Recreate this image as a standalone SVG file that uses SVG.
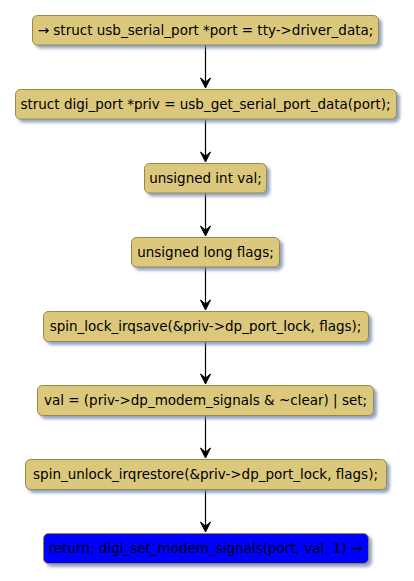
<svg xmlns="http://www.w3.org/2000/svg" width="414" height="581" viewBox="0 0 414 581">
<style>
.n rect{fill:#DBC87B;stroke:#9A8843;stroke-width:1;filter:url(#sh)}
.n.end rect{fill:#0000FF;stroke:#9A8843}
.n text{font-family:"DejaVu Sans",sans-serif;font-size:13.5px;fill:#000;text-anchor:middle}
.c line{stroke:#000;stroke-width:1.2}
.c path{fill:#000;stroke:#000;stroke-width:1}
</style>
<defs>
<filter id="sh" x="-10%" y="-30%" width="130%" height="180%">
<feGaussianBlur in="SourceAlpha" stdDeviation="1.5"/>
<feOffset dx="3" dy="3" result="b"/>
<feFlood flood-color="#6F86B0" flood-opacity="0.75"/>
<feComposite in2="b" operator="in" result="s"/>
<feMerge><feMergeNode in="s"/><feMergeNode in="SourceGraphic"/></feMerge>
</filter>
</defs>
<rect width="414" height="581" fill="#fff"/>
<g class="c">
<line x1="205.5" y1="45" x2="205.5" y2="85"/><path d="M205.5,88 L200.5,78 L205.5,82 L210.5,78 Z"/>
<line x1="205.5" y1="119" x2="205.5" y2="159"/><path d="M205.5,162 L200.5,152 L205.5,156 L210.5,152 Z"/>
<line x1="205.5" y1="193" x2="205.5" y2="233"/><path d="M205.5,236 L200.5,226 L205.5,230 L210.5,226 Z"/>
<line x1="205.5" y1="267" x2="205.5" y2="307"/><path d="M205.5,310 L200.5,300 L205.5,304 L210.5,300 Z"/>
<line x1="205.5" y1="341" x2="205.5" y2="381"/><path d="M205.5,384 L200.5,374 L205.5,378 L210.5,374 Z"/>
<line x1="205.5" y1="415" x2="205.5" y2="455"/><path d="M205.5,458 L200.5,448 L205.5,452 L210.5,448 Z"/>
<line x1="205.5" y1="489" x2="205.5" y2="529"/><path d="M205.5,532 L200.5,522 L205.5,526 L210.5,522 Z"/>
</g>
<g id="n1" class="n"><rect x="32.5" y="15.5" width="346" height="29.5" rx="5"/><text x="205.5" y="35">→ struct usb_serial_port *port = tty-&gt;driver_data;</text></g>
<g id="n2" class="n"><rect x="15.5" y="89.5" width="381" height="29.5" rx="5"/><text x="205.5" y="109">struct digi_port *priv = usb_get_serial_port_data(port);</text></g>
<g id="n3" class="n"><rect x="144.5" y="163.5" width="122" height="29.5" rx="5"/><text x="205.5" y="183">unsigned int val;</text></g>
<g id="n4" class="n"><rect x="131.5" y="237.5" width="148" height="29.5" rx="5"/><text x="205.5" y="257">unsigned long flags;</text></g>
<g id="n5" class="n"><rect x="43.5" y="311.5" width="325" height="30" rx="5"/><text x="205.5" y="331">spin_lock_irqsave(&amp;priv-&gt;dp_port_lock, flags);</text></g>
<g id="n6" class="n"><rect x="37.5" y="385.5" width="336" height="30" rx="5"/><text x="205.5" y="405">val = (priv-&gt;dp_modem_signals &amp; ~clear) | set;</text></g>
<g id="n7" class="n"><rect x="25.5" y="459.5" width="361" height="30" rx="5"/><text x="205.5" y="479">spin_unlock_irqrestore(&amp;priv-&gt;dp_port_lock, flags);</text></g>
<g id="n8" class="n end"><rect x="43.5" y="533.5" width="325" height="30" rx="5"/><text x="205.5" y="553">return; digi_set_modem_signals(port, val, 1) →</text></g>
</svg>
